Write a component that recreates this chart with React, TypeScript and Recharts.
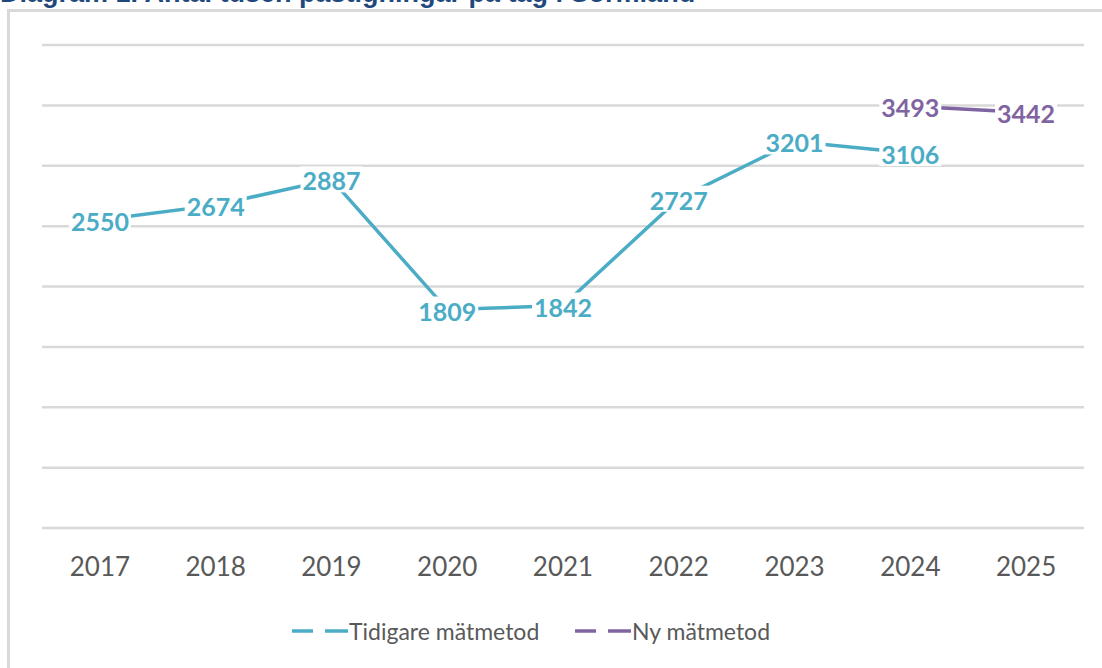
import React from "react";
import { LineChart, Line, XAxis, YAxis, CartesianGrid, LabelList } from "recharts";

const years = ["2017", "2018", "2019", "2020", "2021", "2022", "2023", "2024", "2025"];
const tidigare = [2550, 2674, 2887, 1809, 1842, 2727, 3201, 3106, null];
const ny = [null, null, null, null, null, null, null, 3493, 3442];
const yTicks = [0, 500, 1000, 1500, 2000, 2500, 3000, 3500, 4000];

const data = years.map((year, i) => ({ year, tidigare: tidigare[i], ny: ny[i] }));

const TEAL = "#4BACC6";
const PURPLE = "#8064A2";

function makeLabel(color: string) {
  return (props: any) => {
    const { x, y, value } = props;
    if (value === null || value === undefined) return null;
    const w = String(value).length * 14.5 + 4;
    return (
      <g>
        <rect x={x - w / 2} y={y - 13} width={w} height={26} fill="#fff" />
        <text
          x={x}
          y={y + 1}
          textAnchor="middle"
          dominantBaseline="central"
          fill={color}
          fontFamily="Lato, sans-serif"
          fontWeight="bold"
          fontSize={25}
        >
          {value}
        </text>
      </g>
    );
  };
}

const legendItems = [
  { name: "Tidigare mätmetod", color: TEAL, left: 292 },
  { name: "Ny mätmetod", color: PURPLE, left: 575 },
];

function ChartLegend() {
  return (
    <>
      {legendItems.map((it) => (
        <div
          key={it.name}
          style={{ position: "absolute", left: it.left, top: 617, display: "flex", alignItems: "center" }}
        >
          <svg width={57} height={10}>
            <line x1={0} y1={5} x2={21} y2={5} stroke={it.color} strokeWidth={3.5} />
            <line x1={33} y1={5} x2={56} y2={5} stroke={it.color} strokeWidth={3.5} />
          </svg>
          <span style={{ fontFamily: "Lato, sans-serif", fontSize: 23, color: "#595959", lineHeight: "28px" }}>
            {it.name}
          </span>
        </div>
      ))}
    </>
  );
}

export default function App() {
  return (
    <div style={{ position: "absolute", left: 0, top: 0, width: 1102, height: 668, overflow: "hidden", background: "#fff" }}>
      <div
        style={{
          position: "absolute",
          left: 0,
          top: -22,
          fontFamily: "'Liberation Sans', Arial, sans-serif",
          fontWeight: "bold",
          fontSize: 27,
          color: "#1F497D",
          whiteSpace: "nowrap",
          lineHeight: "30px",
        }}
      >
        Diagram 1. Antal tusen påstigningar på tåg i Sörmland
      </div>
      <div
        style={{
          position: "absolute",
          left: 7,
          top: 9,
          width: 1200,
          height: 800,
          border: "3px solid #D9D9D9",
          background: "#fff",
        }}
      />
      <div style={{ position: "absolute", left: 0, top: 0 }}>
        <LineChart
          width={1102}
          height={668}
          data={data}
          margin={{ top: 45, left: 42, right: 18, bottom: 100 }}
        >
          <CartesianGrid vertical={false} stroke="#D9D9D9" strokeWidth={2.5} />
          <XAxis
            dataKey="year"
            padding={{ left: 57.9, right: 57.9 }}
            axisLine={false}
            tickLine={false}
            height={40}
            tickMargin={24}
            tick={{ fill: "#595959", fontSize: 26, fontFamily: "Lato, sans-serif" }}
          />
          <YAxis
            domain={[0, 4000]}
            ticks={yTicks}
            interval={0}
            width={0}
            tick={() => <g />}
            axisLine={false}
            tickLine={false}
          />
          <Line
            dataKey="tidigare"
            name="Tidigare mätmetod"
            stroke={TEAL}
            strokeWidth={3.5}
            dot={false}
            type="linear"
            isAnimationActive={false}
          >
            <LabelList dataKey="tidigare" content={makeLabel(TEAL)} />
          </Line>
          <Line
            dataKey="ny"
            name="Ny mätmetod"
            stroke={PURPLE}
            strokeWidth={3.5}
            dot={false}
            type="linear"
            isAnimationActive={false}
          >
            <LabelList dataKey="ny" content={makeLabel(PURPLE)} />
          </Line>
        </LineChart>
      </div>
      <ChartLegend />
    </div>
  );
}
